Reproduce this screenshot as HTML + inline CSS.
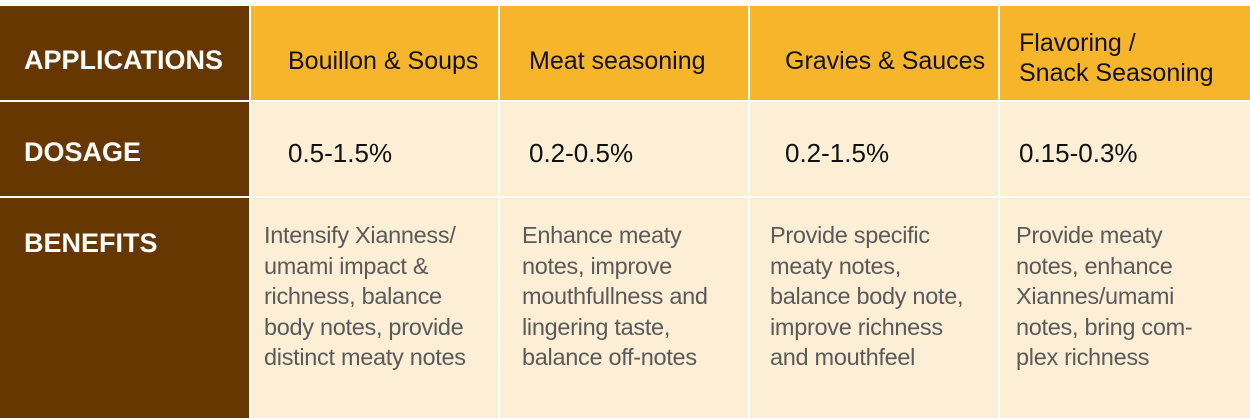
<!DOCTYPE html>
<html><head><style>
body{margin:0;width:1250px;height:418px;background:#fff;position:relative;overflow:hidden;font-family:"Liberation Sans",sans-serif}
.c{position:absolute}
.b{background:#663700}.g{background:#F7B52C}.k{background:#FDEFD6}
.t{position:absolute;white-space:nowrap}
.lab{color:#fff;font-weight:bold;font-size:27px;left:24px}
.h{color:#111;font-size:25px}
.d{color:#111;font-size:26px}
.ben{color:#5a5a5a;font-size:23.5px;line-height:30.5px;letter-spacing:-0.3px}
</style></head><body>
<div class="c b" style="left:0;top:6px;width:249px;height:94px"></div>
<div class="c b" style="left:0;top:102px;width:249px;height:94px"></div>
<div class="c b" style="left:0;top:198px;width:249px;height:220px"></div>
<div class="c g" style="left:251px;top:6px;width:247px;height:94px"></div>
<div class="c g" style="left:500px;top:6px;width:248px;height:94px"></div>
<div class="c g" style="left:750px;top:6px;width:248px;height:94px"></div>
<div class="c g" style="left:1000px;top:6px;width:250px;height:94px"></div>
<div class="c k" style="left:251px;top:102px;width:247px;height:94px"></div>
<div class="c k" style="left:500px;top:102px;width:248px;height:94px"></div>
<div class="c k" style="left:750px;top:102px;width:248px;height:94px"></div>
<div class="c k" style="left:1000px;top:102px;width:250px;height:94px"></div>
<div class="c k" style="left:251px;top:198px;width:247px;height:220px"></div>
<div class="c k" style="left:500px;top:198px;width:248px;height:220px"></div>
<div class="c k" style="left:750px;top:198px;width:248px;height:220px"></div>
<div class="c k" style="left:1000px;top:198px;width:250px;height:220px"></div>

<div class="t lab" style="top:45px">APPLICATIONS</div>
<div class="t lab" style="top:137px">DOSAGE</div>
<div class="t lab" style="top:228px">BENEFITS</div>

<div class="t h" style="left:288px;top:47px">Bouillon &amp; Soups</div>
<div class="t h" style="left:529px;top:47px">Meat seasoning</div>
<div class="t h" style="left:785px;top:47px">Gravies &amp; Sauces</div>
<div class="t h" style="left:1019px;top:28px;line-height:30px">Flavoring /<br>Snack Seasoning</div>

<div class="t d" style="left:288px;top:138px">0.5-1.5%</div>
<div class="t d" style="left:529px;top:138px">0.2-0.5%</div>
<div class="t d" style="left:785px;top:138px">0.2-1.5%</div>
<div class="t d" style="left:1019px;top:138px">0.15-0.3%</div>

<div class="t ben" style="left:264px;top:220px">Intensify Xianness/<br>umami impact &amp;<br>richness, balance<br>body notes, provide<br>distinct meaty notes</div>
<div class="t ben" style="left:522px;top:220px">Enhance meaty<br>notes, improve<br>mouthfullness and<br>lingering taste,<br>balance off-notes</div>
<div class="t ben" style="left:770px;top:220px">Provide specific<br>meaty notes,<br>balance body note,<br>improve richness<br>and mouthfeel</div>
<div class="t ben" style="left:1016px;top:220px">Provide meaty<br>notes, enhance<br>Xiannes/umami<br>notes, bring com-<br>plex richness</div>
</body></html>
